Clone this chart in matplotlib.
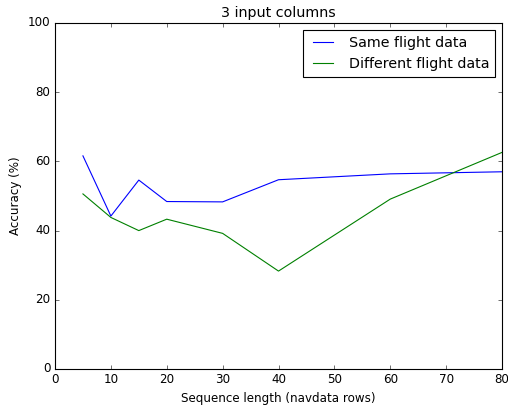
import matplotlib
matplotlib.use('Agg')
import matplotlib.pyplot as plt

# Veriler
seq_len = [5, 10, 15, 20, 30, 40, 60, 80]
same_flight = [61.6, 44.2, 54.6, 48.4, 48.3, 54.7, 56.4, 57.0]
diff_flight = [50.6, 43.8, 40.0, 43.3, 39.2, 28.3, 49.1, 62.6]

plt.style.use('classic')
plt.rcParams['font.size'] = 10.7

fig = plt.figure(figsize=(508 / 80, 410 / 80), dpi=80)
ax = fig.add_axes([55 / 508, 41 / 410, 447 / 508, 346 / 410])

ax.plot(seq_len, same_flight, color='b', label='Same flight data')
ax.plot(seq_len, diff_flight, color='g', label='Different flight data')

ax.set_xlim(0, 80)
ax.set_ylim(0, 100)
ax.set_title('3 input columns')
ax.set_xlabel('Sequence length (navdata rows)')
ax.set_ylabel('Accuracy (%)')
ax.legend(loc='upper right')

fig.savefig('out.png', dpi=80)
